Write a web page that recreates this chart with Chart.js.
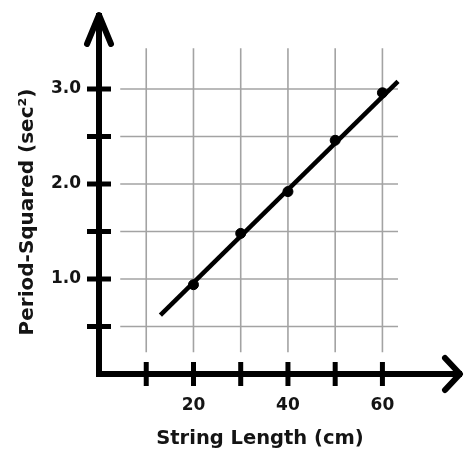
<!DOCTYPE html>
<html>
<head>
<meta charset="utf-8">
<script src="https://cdn.jsdelivr.net/npm/chart.js@4/dist/chart.umd.min.js"></script>
<style>
  html, body { margin: 0; padding: 0; background: #fff; }
  #wrap { width: 464px; height: 451px; }
</style>
</head>
<body>
<div id="wrap"><canvas id="chart"></canvas></div>
<script>
// measured data
var lengths = [20, 30, 40, 50, 60];
var periodSquared = [0.94, 1.48, 1.92, 2.46, 2.96];

// best fit line ends
var fitX = [13, 63.3];
var fitY = [0.62, 3.08];

// axis stuff
var xTicks = [10, 20, 30, 40, 50, 60];
var xTickLabels = ["", "20", "", "40", "", "60"];
var yTicks = [0.5, 1.0, 1.5, 2.0, 2.5, 3.0];
var yTickLabels = ["", "1.0", "", "2.0", "", "3.0"];
var xTitle = "String Length (cm)";
var yTitle = "Period-Squared (sec\u00B2)";

var points = lengths.map(function (v, i) { return { x: v, y: periodSquared[i] }; });
var fitLine = fitX.map(function (v, i) { return { x: v, y: fitY[i] }; });

var textColor = "#141414";

function line(ctx, x1, y1, x2, y2) {
  ctx.beginPath();
  ctx.moveTo(x1, y1);
  ctx.lineTo(x2, y2);
  ctx.stroke();
}

// grid that stops short of the axes, like the worksheet
var gridPlugin = {
  id: "grid",
  beforeDatasetsDraw: function (chart) {
    var ctx = chart.ctx;
    var xs = chart.scales.x, ys = chart.scales.y;
    ctx.save();
    ctx.strokeStyle = "#a3a3a3";
    ctx.lineWidth = 1.6;
    for (var i = 0; i < xTicks.length; i++) {
      var px = xs.getPixelForValue(xTicks[i]);
      line(ctx, px, ys.getPixelForValue(0.23), px, ys.getPixelForValue(3.43));
    }
    for (var j = 0; j < yTicks.length; j++) {
      var py = ys.getPixelForValue(yTicks[j]);
      line(ctx, xs.getPixelForValue(4.5), py, xs.getPixelForValue(63.3), py);
    }
    ctx.restore();
  },
  afterDatasetsDraw: function (chart) {
    var ctx = chart.ctx;
    var xs = chart.scales.x, ys = chart.scales.y;
    var x0 = xs.getPixelForValue(0), y0 = ys.getPixelForValue(0);
    ctx.save();
    ctx.strokeStyle = "#000";
    ctx.lineCap = "square";
    ctx.lineWidth = 6;
    // axes
    line(ctx, x0, y0, x0, 16);
    line(ctx, x0, y0, 459, y0);
    // arrow heads
    ctx.lineCap = "round";
    ctx.lineJoin = "round";
    ctx.beginPath();
    ctx.moveTo(x0 - 12, 44);
    ctx.lineTo(x0, 15);
    ctx.lineTo(x0 + 12, 44);
    ctx.stroke();
    ctx.beginPath();
    ctx.moveTo(445, y0 - 16);
    ctx.lineTo(460, y0);
    ctx.lineTo(445, y0 + 16);
    ctx.stroke();
    // tick marks
    ctx.lineCap = "butt";
    ctx.lineWidth = 5;
    for (var i = 0; i < xTicks.length; i++) {
      var px = xs.getPixelForValue(xTicks[i]);
      line(ctx, px, y0 - 12, px, y0 + 12);
    }
    for (var j = 0; j < yTicks.length; j++) {
      var py = ys.getPixelForValue(yTicks[j]);
      line(ctx, x0 - 12, py, x0 + 12, py);
    }
    // tick labels
    ctx.fillStyle = textColor;
    ctx.font = "bold 17px 'DejaVu Sans'";
    ctx.textBaseline = "middle";
    ctx.textAlign = "center";
    for (var i = 0; i < xTicks.length; i++) {
      ctx.fillText(xTickLabels[i], xs.getPixelForValue(xTicks[i]), 406);
    }
    ctx.textAlign = "right";
    for (var j = 0; j < yTicks.length; j++) {
      ctx.fillText(yTickLabels[j], 81, ys.getPixelForValue(yTicks[j]));
    }
    // titles
    ctx.font = "bold 19.5px 'DejaVu Sans'";
    ctx.textAlign = "center";
    ctx.fillText(xTitle, 260, 439);
    ctx.font = "bold 20px 'DejaVu Sans'";
    ctx.translate(28, 212);
    ctx.rotate(-Math.PI / 2);
    ctx.fillText(yTitle, 0, 0);
    ctx.restore();
  }
};

new Chart(document.getElementById("chart"), {
  type: "scatter",
  data: {
    datasets: [
      {
        label: "fit",
        type: "line",
        data: fitLine,
        borderColor: "#000",
        borderWidth: 4.5,
        pointRadius: 0,
        fill: false
      },
      {
        label: "data",
        data: points,
        backgroundColor: "#000",
        borderColor: "#000",
        pointRadius: 5
      }
    ]
  },
  options: {
    responsive: true,
    maintainAspectRatio: false,
    animation: false,
    layout: { padding: { left: 99, right: 5.5, top: 13, bottom: 77 } },
    plugins: { legend: { display: false }, tooltip: { enabled: false } },
    scales: {
      x: { type: "linear", min: 0, max: 76, display: false },
      y: { type: "linear", min: 0, max: 3.8, display: false }
    }
  },
  plugins: [gridPlugin]
});
</script>
</body>
</html>
